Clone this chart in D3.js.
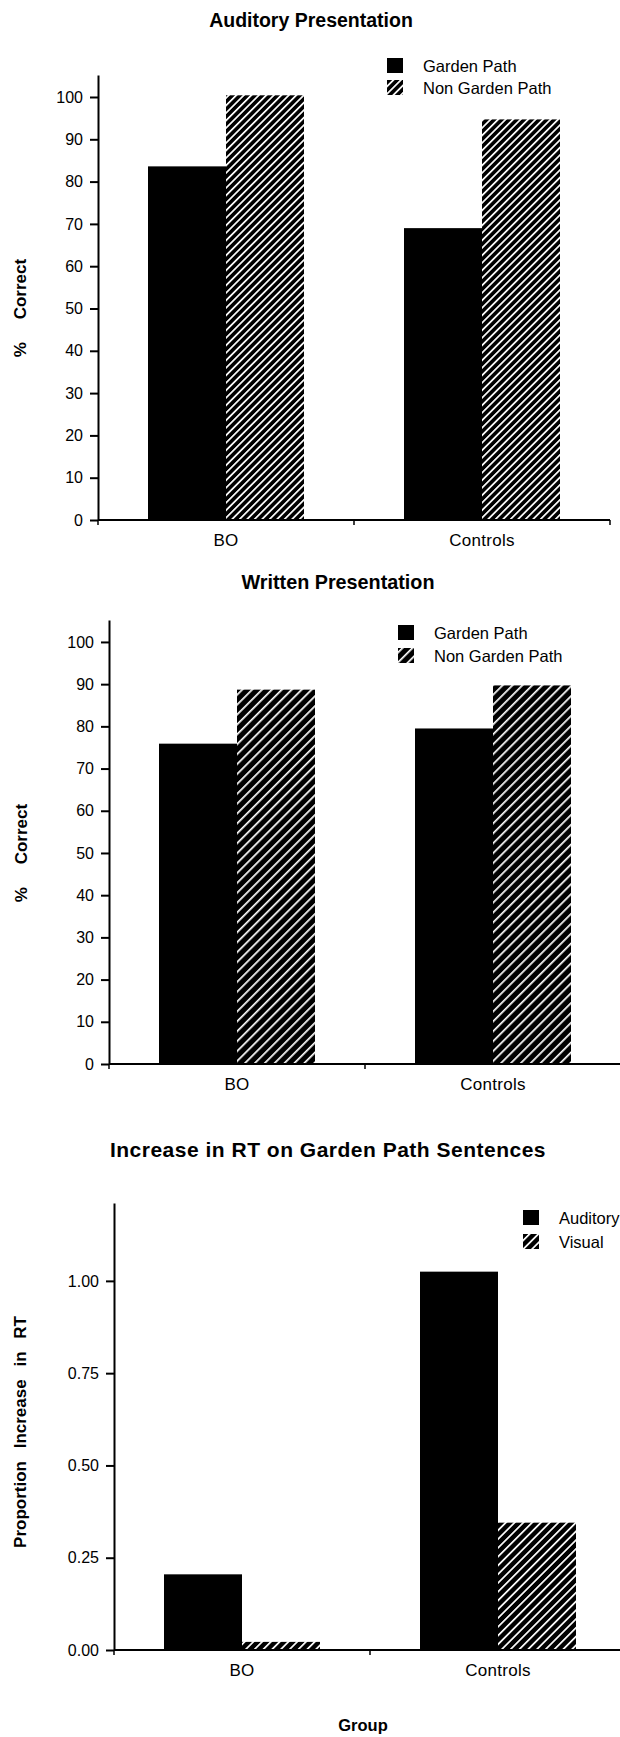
<!DOCTYPE html>
<html>
<head>
<meta charset="utf-8">
<script src="https://cdn.jsdelivr.net/npm/d3@7"></script>
<style>
  html, body { margin: 0; padding: 0; background: #fff; }
  svg { display: block; }
  text { font-family: "Liberation Sans", Arial, Helvetica, sans-serif; fill: #000; }
</style>
</head>
<body>
<svg id="chart" width="620" height="1737"></svg>
<script>
// ---------------- DATA ----------------
const groups = ["BO", "Controls"];

const chart1Title = "Auditory Presentation";
const chart1Series = ["Garden Path", "Non Garden Path"];
const chart1GardenPath = [83.6, 69.0];
const chart1NonGardenPath = [100.4, 94.7];
const chart1Ticks = [0, 10, 20, 30, 40, 50, 60, 70, 80, 90, 100];
const chart1YLabel = ["%", "Correct"];

const chart2Title = "Written Presentation";
const chart2Series = ["Garden Path", "Non Garden Path"];
const chart2GardenPath = [75.9, 79.5];
const chart2NonGardenPath = [88.7, 89.7];
const chart2Ticks = [0, 10, 20, 30, 40, 50, 60, 70, 80, 90, 100];
const chart2YLabel = ["%", "Correct"];

const chart3Title = "Increase in RT on Garden Path Sentences";
const chart3Series = ["Auditory", "Visual"];
const chart3Auditory = [0.205, 1.025];
const chart3Visual = [0.022, 0.345];
const chart3Ticks = [0, 0.25, 0.5, 0.75, 1.0];
const chart3YLabel = ["Proportion", "Increase", "in", "RT"];
const chart3XLabel = "Group";

// ---------------- LAYOUT ----------------
const charts = [
  { id: 1, title: chart1Title, series: chart1Series, values: [chart1GardenPath, chart1NonGardenPath],
    ticks: chart1Ticks, yMax: 105.2, fmt: d3.format("d"), yLabel: chart1YLabel,
    axisX: 98, y0: 520, yTop: 75, titleX: 311, titleY: 27, titleSize: 19.5, titleLS: 0,
    legX: 387, legY: [58, 80], hatch: 5.3, yLabelX: 20, yLabelY: 308, yGaps: [18] },
  { id: 2, title: chart2Title, series: chart2Series, values: [chart2GardenPath, chart2NonGardenPath],
    ticks: chart2Ticks, yMax: 105.2, fmt: d3.format("d"), yLabel: chart2YLabel,
    axisX: 109, y0: 1064, yTop: 620, titleX: 338, titleY: 589, titleSize: 19.8, titleLS: 0,
    legX: 398, legY: [625, 648], hatch: 7, yLabelX: 21, yLabelY: 853, yGaps: [18] },
  { id: 3, title: chart3Title, series: chart3Series, values: [chart3Auditory, chart3Visual],
    ticks: chart3Ticks, yMax: 1.211, fmt: d3.format(".2f"), yLabel: chart3YLabel,
    axisX: 114, y0: 1650, yTop: 1203, titleX: 328, titleY: 1157, titleSize: 21, titleLS: 0.5,
    legX: 523, legY: [1210, 1234], hatch: 6.2, yLabelX: 20, yLabelY: 1432, yGaps: [8, 8, 8] }
];

const svg = d3.select("#chart");
const defs = svg.append("defs");

charts.forEach(c => {
  // hatch pattern: white "/" lines on black
  const pat = defs.append("pattern")
    .attr("id", "hatch" + c.id)
    .attr("patternUnits", "userSpaceOnUse")
    .attr("width", c.hatch).attr("height", c.hatch)
    .attr("patternTransform", "rotate(45)");
  pat.append("rect").attr("width", c.hatch).attr("height", c.hatch).attr("fill", "#000");
  pat.append("rect").attr("x", 0).attr("width", 1.7).attr("height", c.hatch).attr("fill", "#fff");

  const fills = ["#000", `url(#hatch${c.id})`];
  const plotW = 512;

  const x0 = d3.scaleBand().domain(groups).range([c.axisX, c.axisX + plotW]).padding(0);
  const x1 = d3.scaleBand().domain(c.series).range([0, x0.bandwidth()])
    .paddingInner(0).paddingOuter(0.641);
  const y = d3.scaleLinear().domain([0, c.yMax]).range([c.y0, c.yTop]);

  const g = svg.append("g");

  // title
  g.append("text")
    .attr("x", c.titleX).attr("y", c.titleY)
    .attr("text-anchor", "middle")
    .style("font-weight", "bold").style("font-size", c.titleSize + "px")
    .style("letter-spacing", c.titleLS + "px")
    .text(c.title);

  // bars
  const rows = groups.map((grp, gi) => ({ grp, vals: c.series.map((s, si) => ({ s, si, v: c.values[si][gi] })) }));
  const gg = g.selectAll("g.grp").data(rows).join("g")
    .attr("transform", d => `translate(${x0(d.grp)},0)`);
  gg.selectAll("rect").data(d => d.vals).join("rect")
    .attr("x", d => x1(d.s))
    .attr("width", x1.bandwidth())
    .attr("y", d => y(d.v))
    .attr("height", d => y(0) - y(d.v))
    .attr("fill", d => fills[d.si]);

  // y axis
  const yAxis = d3.axisLeft(y).tickValues(c.ticks).tickFormat(c.fmt)
    .tickSize(8).tickSizeOuter(0).tickPadding(7);
  const ya = g.append("g").attr("transform", `translate(${c.axisX},0)`).call(yAxis);
  ya.select(".domain").attr("stroke", "#000").attr("stroke-width", 2);
  ya.selectAll(".tick line").attr("stroke", "#000").attr("stroke-width", 2);
  ya.selectAll(".tick text").style("font-size", "16px")
    .style("font-family", '"Liberation Sans", Arial, sans-serif').attr("fill", "#000");

  // x axis: baseline + boundary ticks + category labels
  g.append("line")
    .attr("x1", c.axisX).attr("x2", c.axisX + plotW)
    .attr("y1", y(0)).attr("y2", y(0))
    .attr("stroke", "#000").attr("stroke-width", 2);
  const bounds = [x0(groups[0])].concat(groups.map(d => x0(d) + x0.bandwidth()));
  g.selectAll("line.xt").data(bounds).join("line")
    .attr("class", "xt")
    .attr("x1", d => d).attr("x2", d => d)
    .attr("y1", y(0)).attr("y2", y(0) + 5)
    .attr("stroke", "#000").attr("stroke-width", 1.5);
  const xAxis = d3.axisBottom(x0).tickSize(0).tickPadding(14);
  const xa = g.append("g").attr("transform", `translate(0,${y(0)})`).call(xAxis);
  xa.select(".domain").remove();
  xa.selectAll(".tick text").style("font-size", "17px").style("letter-spacing", "0.3px")
    .style("font-family", '"Liberation Sans", Arial, sans-serif').attr("fill", "#000");

  // legend
  c.series.forEach((s, i) => {
    g.append("rect")
      .attr("x", c.legX).attr("y", c.legY[i])
      .attr("width", 16).attr("height", 15)
      .attr("fill", fills[i]);
    g.append("text")
      .attr("x", c.legX + 36).attr("y", c.legY[i] + 14)
      .style("font-size", "16.5px")
      .text(s);
  });

  // y label (rotated, with wide word gaps)
  const yl = g.append("text")
    .attr("transform", `translate(${c.yLabelX},${c.yLabelY}) rotate(-90)`)
    .attr("text-anchor", "middle")
    .attr("dy", "0.35em")
    .style("font-weight", "bold").style("font-size", "17px");
  c.yLabel.forEach((w, i) => {
    yl.append("tspan").attr("dx", i === 0 ? 0 : c.yGaps[i - 1]).text(i === 0 ? w : " " + w);
  });

  if (c.id === 3) {
    g.append("text")
      .attr("x", 363).attr("y", 1731)
      .attr("text-anchor", "middle")
      .style("font-weight", "bold").style("font-size", "16.5px")
      .text(chart3XLabel);
  }
});
</script>
</body>
</html>
